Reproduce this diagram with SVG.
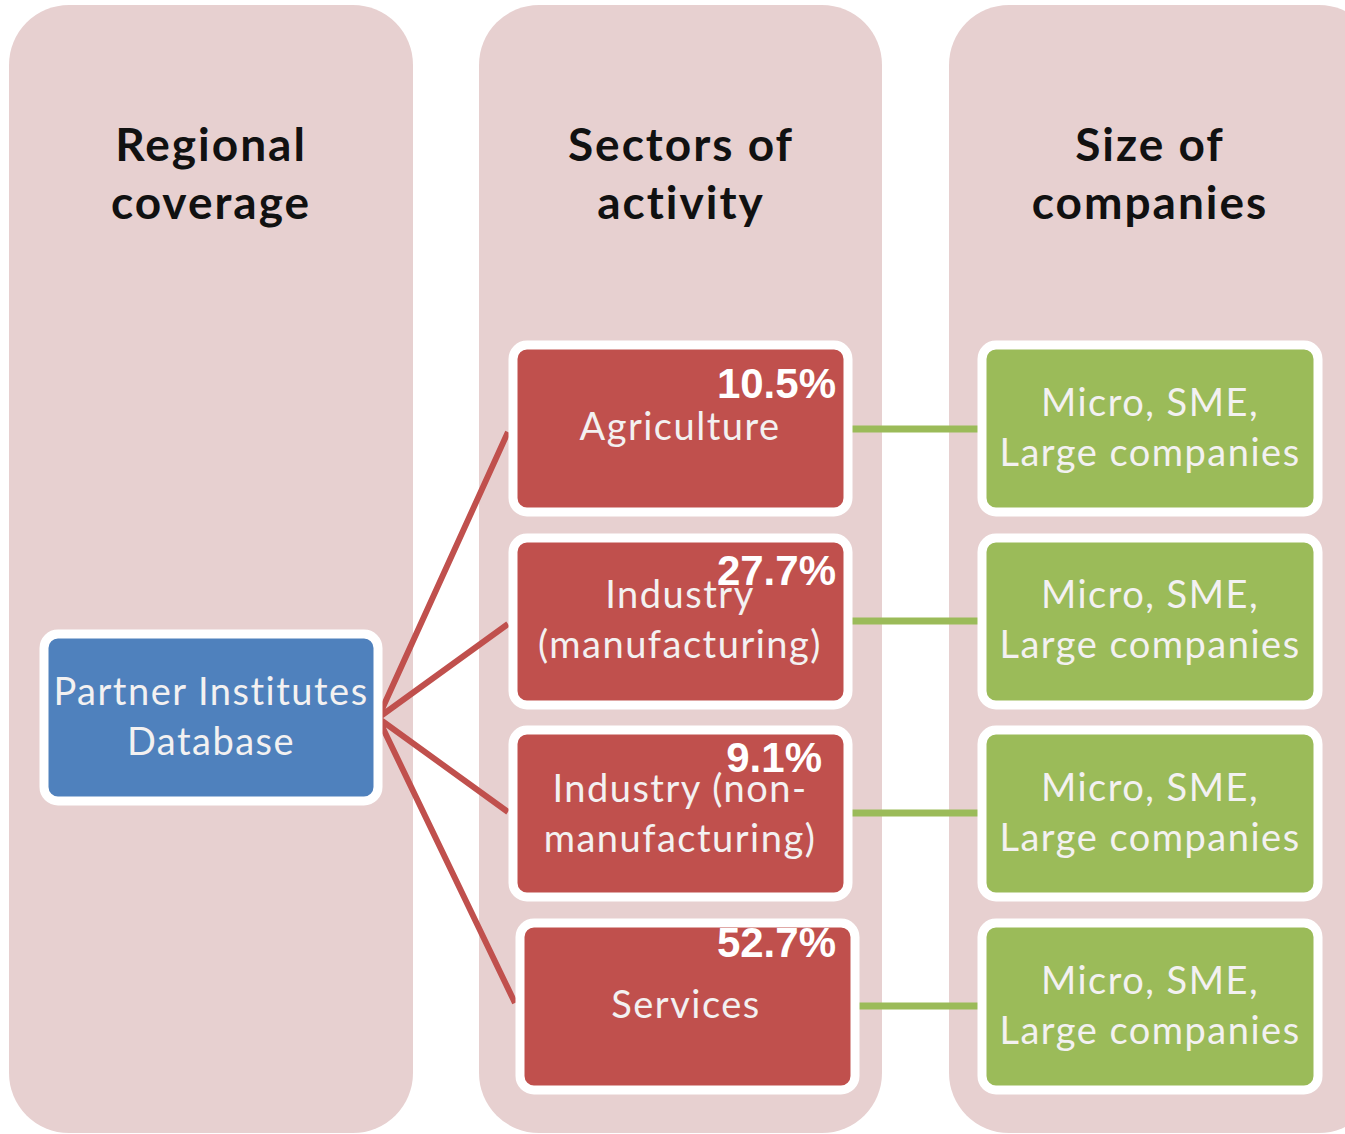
<svg xmlns="http://www.w3.org/2000/svg" width="1345" height="1134" viewBox="0 0 1345 1134">
<style>
.col{fill:#e7d0d0}
.hd{font-family:Lato,"Open Sans","Liberation Sans",sans-serif;font-weight:bold;font-size:46px;letter-spacing:2px;fill:#111;text-anchor:middle}
.box{stroke:#fff;stroke-width:9}
.red{fill:#c0504d}.grn{fill:#9bbb59}.blu{fill:#4f81bd}
.lbl{font-family:Lato,"Open Sans","Liberation Sans",sans-serif;font-size:38px;letter-spacing:1.5px;fill:#f3f1f1;text-anchor:middle}
.pct{font-family:"Liberation Sans",Arial,sans-serif;font-weight:bold;font-size:42px;fill:#fff;text-anchor:end}
.rl{stroke:#c0504d;stroke-width:6;fill:none}
.gl{stroke:#9bbb59;stroke-width:7;fill:none}
</style>
<rect width="1345" height="1134" fill="#fff"/>
<g id="columns">
<rect class="col" x="9" y="5" width="404" height="1128" rx="60"/>
<rect class="col" x="479" y="5" width="403" height="1128" rx="60"/>
<rect class="col" x="949" y="5" width="430" height="1128" rx="60"/>
<text class="hd" x="211" y="161">Regional</text>
<text class="hd" x="211" y="219">coverage</text>
<text class="hd" x="681" y="161">Sectors of</text>
<text class="hd" x="681" y="219">activity</text>
<text class="hd" x="1150" y="161">Size of</text>
<text class="hd" x="1150" y="219">companies</text>
</g>
<g id="connectors">
<path class="rl" d="M378 718 L508 432 M378 718 L508 624 M378 718 L508 812 M378 718 L515 1003"/>
<path class="gl" d="M848 429 H978 M848 621 H978 M848 813 H978 M855 1006 H978"/>
</g>
<g id="partner"><rect class="box blu" x="44" y="634" width="334" height="167" rx="14"/>
<text class="lbl" x="211" y="705">Partner Institutes</text><text class="lbl" x="211" y="755">Database</text></g>
<g id="agriculture"><rect class="box red" x="513" y="345" width="335" height="167" rx="14"/>
<text class="lbl" x="680" y="440">Agriculture</text><text class="pct" x="836" y="398">10.5%</text></g>
<g id="industry-man"><rect class="box red" x="513" y="538" width="335" height="167" rx="14"/>
<text class="lbl" x="680" y="608">Industry</text><text class="lbl" x="680" y="658">(manufacturing)</text><text class="pct" x="836" y="585">27.7%</text></g>
<g id="industry-non"><rect class="box red" x="513" y="730" width="335" height="167" rx="14"/>
<text class="lbl" x="680" y="802">Industry (non-</text><text class="lbl" x="680" y="852">manufacturing)</text><text class="pct" x="822" y="772">9.1%</text></g>
<g id="services"><rect class="box red" x="520" y="923" width="335" height="167" rx="14"/>
<text class="lbl" x="686" y="1018">Services</text><text class="pct" x="836" y="957">52.7%</text></g>
<g id="size1"><rect class="box grn" x="982" y="345" width="336" height="167" rx="14"/>
<text class="lbl" x="1150" y="416">Micro, SME,</text><text class="lbl" x="1150" y="466">Large companies</text></g>
<g id="size2"><rect class="box grn" x="982" y="538" width="336" height="167" rx="14"/>
<text class="lbl" x="1150" y="608">Micro, SME,</text><text class="lbl" x="1150" y="658">Large companies</text></g>
<g id="size3"><rect class="box grn" x="982" y="730" width="336" height="167" rx="14"/>
<text class="lbl" x="1150" y="801">Micro, SME,</text><text class="lbl" x="1150" y="851">Large companies</text></g>
<g id="size4"><rect class="box grn" x="982" y="923" width="336" height="167" rx="14"/>
<text class="lbl" x="1150" y="994">Micro, SME,</text><text class="lbl" x="1150" y="1044">Large companies</text></g>
</svg>
